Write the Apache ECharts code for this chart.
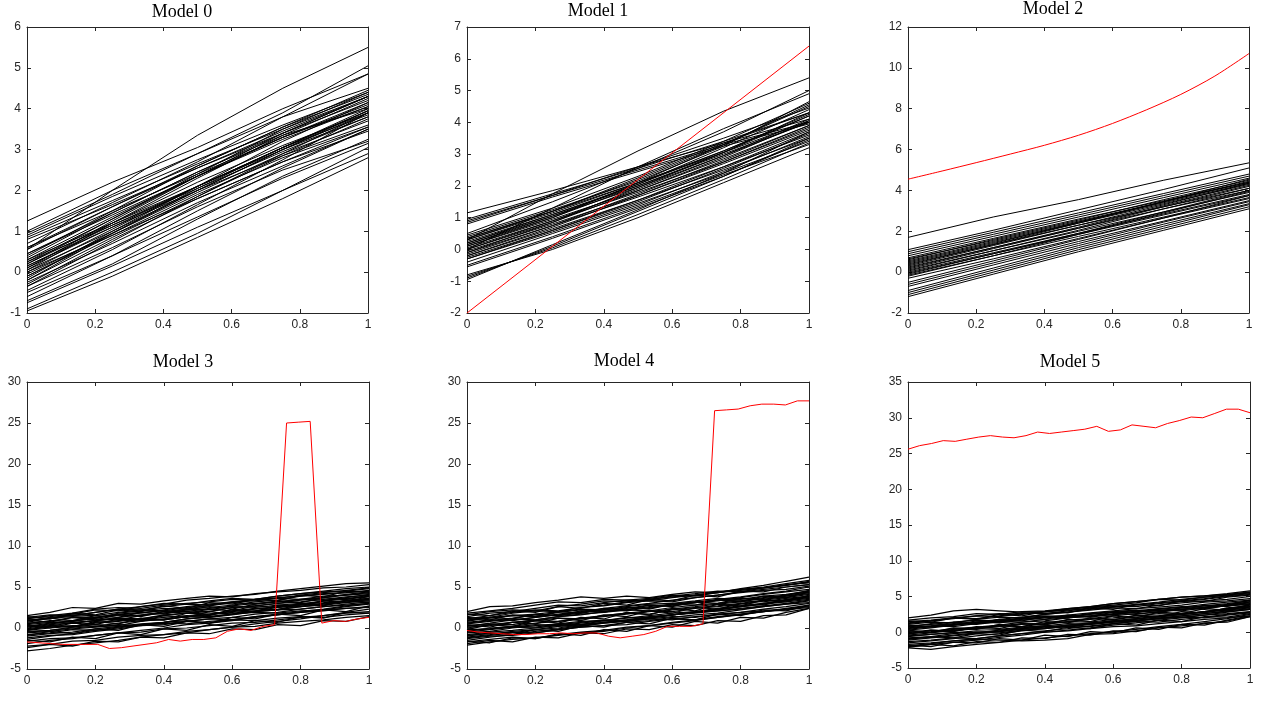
<!DOCTYPE html>
<html>
<head>
<meta charset="utf-8">
<title>Models</title>
<script src="https://cdn.jsdelivr.net/npm/echarts@6/dist/echarts.min.js"></script>
<style>
  html, body { margin: 0; padding: 0; background: #fff; }
  #main { width: 1272px; height: 706px; }
</style>
</head>
<body>
<div id="main"></div>
<script>
// x positions of the samples
var xs5 = [0, 0.25, 0.5, 0.75, 1];
var xs11 = [0, 0.1, 0.2, 0.3, 0.4, 0.5, 0.6, 0.7, 0.8, 0.9, 1];
var xs16 = [0, 0.067, 0.133, 0.2, 0.267, 0.333, 0.4, 0.467, 0.533, 0.6, 0.667, 0.733, 0.8, 0.867, 0.933, 1];
var xs30 = [0, 0.034, 0.069, 0.103, 0.138, 0.172, 0.207, 0.241, 0.276, 0.31, 0.345, 0.379, 0.414, 0.448, 0.483,
            0.517, 0.552, 0.586, 0.621, 0.655, 0.69, 0.724, 0.759, 0.793, 0.828, 0.862, 0.897, 0.931, 0.966, 1];
var xTicks = ['0', '0.2', '0.4', '0.6', '0.8', '1'];

// Model 0 - samples at xs5
var model0Lines = [
    [1.25, 2.2, 3.05, 4.0, 4.85], [0.55, 2.0, 3.35, 4.5, 5.5], [1.0, 2.0, 2.9, 3.8, 4.5],
    [0.95, 1.9, 2.9, 3.9, 5.05], [0.9, 1.85, 2.75, 3.6, 4.4], [0.8, 1.65, 2.55, 3.45, 4.3],
    [0.7, 1.7, 2.7, 3.8, 4.85], [0.55, 1.6, 2.55, 3.4, 4.2], [0.45, 1.4, 2.35, 3.3, 4.1],
    [0.35, 1.45, 2.45, 3.35, 4.0], [0.25, 1.3, 2.4, 3.5, 4.4], [0.2, 1.2, 2.2, 3.1, 3.9],
    [0.2, 1.3, 2.35, 3.25, 4.05], [0.15, 1.15, 2.1, 3.0, 3.8], [0.1, 1.25, 2.35, 3.4, 4.3],
    [0.05, 1.0, 2.0, 3.0, 3.9], [0.0, 1.05, 2.1, 3.05, 3.85], [-0.05, 0.95, 1.95, 2.9, 3.7],
    [-0.1, 0.9, 1.9, 2.8, 3.55], [-0.15, 1.0, 2.1, 3.2, 4.15], [-0.2, 0.85, 1.85, 2.85, 3.75],
    [-0.25, 0.7, 1.7, 2.6, 3.5], [-0.3, 0.8, 1.8, 2.7, 3.45], [-0.35, 0.6, 1.6, 2.5, 3.2],
    [-0.45, 0.55, 1.65, 2.75, 3.9], [-0.5, 0.4, 1.35, 2.3, 3.15], [-0.7, 0.2, 1.3, 2.35, 3.25],
    [-0.75, 0.15, 1.1, 2.0, 2.9], [-0.9, 0.0, 0.95, 2.0, 3.05], [-0.95, -0.1, 0.85, 1.8, 2.8],
    [0.6, 1.5, 2.4, 3.3, 4.05], [0.4, 1.5, 2.6, 3.55, 4.35], [0.15, 1.1, 2.0, 2.85, 3.6],
    [-0.2, 0.95, 2.05, 3.05, 4.0], [0.3, 1.2, 2.1, 3.05, 3.95], [0.05, 1.2, 2.3, 3.35, 4.25],
    [-0.6, 0.4, 1.5, 2.55, 3.5], [0.85, 1.75, 2.65, 3.5, 4.3],
    [0.3, 1.35, 2.35, 3.3, 4.15], [0.1, 1.1, 2.1, 3.05, 3.95], [-0.1, 0.95, 2.0, 3.0, 3.95],
    [0.45, 1.45, 2.45, 3.4, 4.3], [0.0, 0.9, 1.8, 2.7, 3.55], [0.25, 1.15, 2.05, 2.95, 3.8],
    [-0.35, 0.75, 1.85, 2.9, 3.9], [0.6, 1.6, 2.6, 3.55, 4.45]
];

// Model 1 - samples at xs5, red is a straight line
var model1Lines = [
    [1.15, 1.85, 2.6, 3.35, 4.1], [0.95, 1.75, 2.55, 3.4, 4.3], [0.9, 1.7, 2.5, 3.3, 4.0],
    [0.85, 1.7, 2.6, 3.5, 4.45], [0.8, 1.65, 2.45, 3.25, 3.95], [0.3, 1.75, 3.1, 4.35, 5.4],
    [0.0, 1.3, 2.6, 3.8, 4.9], [0.5, 1.5, 2.55, 3.7, 5.0], [0.45, 1.3, 2.3, 3.4, 4.6],
    [0.35, 1.2, 2.2, 3.3, 4.5], [0.3, 1.15, 2.1, 3.1, 4.2], [0.25, 1.1, 2.05, 3.2, 4.4],
    [0.2, 1.05, 1.95, 2.95, 4.0], [0.15, 1.0, 2.0, 3.05, 4.3], [0.1, 0.95, 1.85, 2.85, 3.9],
    [0.05, 0.9, 1.8, 2.75, 3.8], [0.0, 0.85, 1.85, 2.9, 4.05], [-0.05, 0.8, 1.7, 2.7, 3.75],
    [-0.1, 0.75, 1.65, 2.6, 3.6], [-0.15, 0.75, 1.75, 2.8, 3.9], [-0.2, 0.65, 1.55, 2.5, 3.5],
    [-0.25, 0.6, 1.5, 2.55, 3.65], [-0.3, 0.55, 1.45, 2.4, 3.4], [-0.4, 0.5, 1.4, 2.45, 3.55],
    [-0.5, 0.4, 1.35, 2.35, 3.3], [-0.55, 0.35, 1.3, 2.3, 3.45], [-0.8, 0.0, 1.0, 2.1, 3.2],
    [-0.85, 0.05, 1.1, 2.2, 3.35], [-0.9, 0.1, 1.2, 2.3, 3.5], [-0.95, 0.15, 1.25, 2.4, 3.7],
    [0.4, 1.25, 2.15, 3.25, 4.65], [0.1, 1.0, 2.1, 3.3, 4.55], [-0.1, 0.85, 1.95, 3.05, 4.2],
    [0.3, 1.2, 2.25, 3.35, 4.3],
    [0.2, 1.1, 2.0, 3.0, 4.0], [0.0, 0.9, 1.9, 2.95, 4.1], [-0.2, 0.7, 1.7, 2.75, 3.85],
    [0.15, 1.05, 2.05, 3.1, 4.25], [-0.3, 0.6, 1.55, 2.6, 3.7], [0.35, 1.2, 2.1, 3.05, 4.05]
];
var model1RedX = [0, 1];
var model1Red = [-2.0, 6.4];

// Model 2 - samples at xs5, red at xs11
var model2Lines = [
    [1.7, 2.7, 3.55, 4.5, 5.35], [1.1, 2.05, 3.05, 4.05, 5.1], [1.0, 1.95, 2.9, 3.85, 4.8],
    [0.9, 1.85, 2.8, 3.75, 4.7], [0.8, 1.75, 2.7, 3.65, 4.6], [0.7, 1.65, 2.6, 3.5, 4.4],
    [0.6, 1.6, 2.55, 3.55, 4.5], [0.5, 1.45, 2.4, 3.35, 4.3], [0.45, 1.4, 2.45, 3.45, 4.45],
    [0.4, 1.35, 2.3, 3.2, 4.1], [0.3, 1.3, 2.3, 3.3, 4.35], [0.25, 1.2, 2.15, 3.1, 4.0],
    [0.2, 1.2, 2.2, 3.25, 4.25], [0.1, 1.05, 2.0, 2.95, 3.9], [0.05, 1.05, 2.05, 3.1, 4.1],
    [0.0, 0.95, 1.9, 2.85, 3.8], [-0.1, 0.9, 1.9, 2.95, 4.0], [-0.15, 0.8, 1.75, 2.7, 3.65],
    [-0.2, 0.8, 1.85, 2.9, 3.95], [-0.3, 0.65, 1.65, 2.65, 3.6], [-0.5, 0.55, 1.6, 2.65, 3.75],
    [-0.6, 0.45, 1.5, 2.5, 3.5], [-0.7, 0.35, 1.4, 2.45, 3.45], [-0.9, 0.2, 1.3, 2.35, 3.35],
    [-1.0, 0.1, 1.2, 2.25, 3.3], [-1.1, 0.0, 1.1, 2.15, 3.2], [-1.2, -0.1, 1.0, 2.05, 3.1],
    [0.15, 1.15, 2.15, 3.2, 4.2], [0.35, 1.35, 2.4, 3.45, 4.55], [-0.05, 0.9, 1.85, 2.8, 3.75],
    [0.55, 1.5, 2.45, 3.4, 4.35], [0.65, 1.55, 2.5, 3.45, 4.4]
];
var model2Red = [4.55, 4.95, 5.36, 5.78, 6.21, 6.7, 7.28, 7.95, 8.7, 9.6, 10.7];

// Model 3 - black at xs16, red at xs30
var model3Lines = [
    [1.5, 1.9, 2.5, 2.4, 3.0, 2.9, 3.3, 3.6, 3.9, 3.8, 4.2, 4.4, 4.6, 4.9, 5.0, 5.3],
    [1.2, 1.4, 1.7, 2.2, 2.1, 2.6, 3.0, 2.9, 3.3, 3.6, 3.5, 3.9, 4.2, 4.4, 4.5, 4.8],
    [0.8, 1.3, 1.5, 1.9, 2.3, 2.6, 2.9, 3.4, 3.6, 3.9, 4.1, 4.5, 4.8, 5.1, 5.4, 5.5],
    [1.0, 1.1, 1.6, 1.5, 1.9, 2.2, 2.1, 2.5, 2.7, 3.1, 2.9, 3.2, 3.5, 3.4, 3.6, 3.8],
    [0.5, 0.9, 0.8, 1.3, 1.6, 1.5, 2.0, 2.3, 2.2, 2.7, 3.0, 3.2, 3.5, 3.7, 4.0, 4.3],
    [0.3, 0.2, 0.7, 0.9, 1.2, 1.1, 1.5, 1.8, 1.7, 2.1, 2.4, 2.5, 2.8, 3.0, 3.3, 3.5],
    [0.0, 0.4, 0.6, 0.9, 1.3, 1.6, 1.8, 2.3, 2.5, 2.8, 3.2, 3.4, 3.9, 4.1, 4.3, 4.6],
    [-0.2, 0.1, 0.3, 0.2, 0.6, 0.9, 1.0, 1.4, 1.3, 1.7, 2.0, 2.2, 2.3, 2.6, 2.8, 3.0],
    [-0.5, -0.3, 0.1, 0.4, 0.3, 0.8, 1.1, 1.4, 1.7, 2.0, 2.3, 2.6, 2.9, 3.3, 3.5, 3.9],
    [-0.8, -0.6, -0.2, -0.3, 0.1, 0.4, 0.5, 0.8, 1.1, 1.0, 1.4, 1.7, 1.9, 2.1, 2.4, 2.6],
    [-1.2, -0.9, -0.8, -0.4, -0.1, 0.3, 0.4, 0.8, 1.1, 1.3, 1.7, 1.9, 2.3, 2.6, 2.9, 3.2],
    [-1.6, -1.3, -1.2, -0.9, -0.6, -0.5, -0.1, 0.0, 0.3, 0.6, 0.7, 1.0, 1.3, 1.5, 1.8, 2.0],
    [-2.2, -2.0, -1.6, -1.5, -1.1, -0.9, -0.8, -0.4, -0.2, 0.1, 0.2, 0.6, 0.8, 1.0, 1.3, 1.5],
    [-2.8, -2.5, -2.1, -1.8, -1.5, -1.1, -0.8, -0.6, -0.2, 0.1, 0.5, 0.8, 1.1, 1.5, 1.9, 2.3],
    [0.6, 0.8, 1.3, 1.2, 1.8, 2.1, 2.4, 2.3, 2.8, 3.1, 3.5, 3.6, 4.0, 4.3, 4.6, 4.9],
    [0.2, 0.6, 0.9, 1.1, 1.0, 1.5, 1.8, 2.1, 2.0, 2.5, 2.7, 3.0, 3.2, 3.5, 3.8, 4.0],
    [-0.3, 0.0, 0.2, 0.7, 0.9, 1.1, 1.6, 1.8, 2.0, 2.5, 2.7, 3.0, 3.4, 3.7, 4.1, 4.4],
    [-1.0, -0.7, -0.5, -0.1, 0.2, 0.5, 0.7, 1.1, 1.3, 1.6, 2.0, 2.2, 2.6, 2.9, 3.3, 3.6],
    [1.3, 1.6, 1.5, 1.9, 2.3, 2.2, 2.6, 2.9, 2.8, 3.2, 3.3, 3.6, 3.5, 3.9, 4.0, 4.2],
    [-0.6, -0.4, -0.1, 0.1, 0.4, 0.3, 0.7, 0.9, 0.6, 1.0, 1.4, 1.6, 1.9, 2.2, 2.6, 2.9],
    [0.9, 1.2, 1.4, 1.3, 1.7, 1.9, 2.1, 2.0, 2.4, 2.6, 2.5, 2.8, 3.0, 3.1, 3.3, 3.4],
    [-1.4, -1.0, -0.7, -0.3, 0.0, 0.4, 0.7, 1.1, 1.4, 1.7, 2.1, 2.5, 2.8, 3.3, 3.7, 4.1],
    [0.1, 0.5, 0.8, 1.2, 1.6, 1.8, 2.2, 2.6, 2.9, 3.2, 3.5, 3.9, 4.2, 4.5, 4.8, 5.0],
    [-0.4, -0.3, 0.0, 0.2, 0.1, 0.4, 0.6, 0.5, 0.8, 1.0, 0.9, 1.2, 1.4, 1.3, 1.6, 1.8],
    [0.4, 0.7, 0.6, 0.9, 1.1, 1.0, 1.3, 1.5, 1.4, 1.7, 1.9, 1.8, 2.1, 2.2, 2.4, 2.5],
    [-1.9, -1.5, -1.3, -0.9, -0.6, -0.3, 0.0, 0.4, 0.6, 0.9, 1.3, 1.6, 2.0, 2.3, 2.7, 3.0],
    [1.1, 1.5, 1.8, 2.3, 2.5, 2.4, 2.8, 3.0, 3.2, 3.5, 3.4, 3.7, 3.9, 4.2, 4.3, 4.5],
    [-0.1, 0.3, 0.2, 0.6, 0.8, 1.1, 1.0, 1.4, 1.6, 1.9, 2.1, 2.3, 2.6, 2.8, 3.1, 3.3],
    [0.7, 1.2, 0.9, 1.5, 1.3, 1.9, 1.7, 2.2, 2.6, 2.3, 2.9, 3.3, 3.1, 3.7, 3.5, 4.0],
    [-0.9, -0.4, -0.7, -0.1, -0.3, 0.4, 0.2, 0.8, 0.6, 1.3, 1.1, 1.7, 1.5, 2.2, 2.0, 2.7],
    [1.4, 1.1, 1.8, 1.6, 2.2, 2.0, 2.7, 2.4, 3.1, 2.9, 3.5, 3.3, 4.0, 3.8, 4.5, 4.4],
    [-1.5, -1.7, -1.1, -1.3, -0.6, -0.8, -0.1, -0.3, 0.4, 0.2, 0.9, 0.7, 1.4, 1.2, 1.9, 1.8],
    [0.3, 0.0, 0.6, 0.4, 1.1, 0.8, 1.5, 1.3, 2.0, 1.7, 2.4, 2.2, 2.9, 2.7, 3.4, 3.6],
    [-0.3, 0.3, 0.1, 0.8, 0.5, 1.2, 1.0, 1.8, 1.5, 2.3, 2.0, 2.8, 2.6, 3.3, 3.1, 3.9],
    [1.0, 0.7, 1.3, 1.0, 1.6, 1.4, 2.0, 1.8, 2.3, 2.1, 2.7, 2.5, 3.0, 2.8, 3.3, 3.1],
    [-2.4, -2.0, -2.2, -1.6, -1.7, -1.1, -1.2, -0.6, -0.7, -0.1, -0.2, 0.4, 0.3, 0.9, 0.8, 1.4]
];
var model3Red = [-1.7, -1.8, -1.9, -2.0, -2.0, -2.0, -2.0, -2.5, -2.4, -2.2, -2.0, -1.8, -1.4, -1.6, -1.4,
                 -1.4, -1.2, -0.4, -0.1, -0.3, 0.2, 0.4, 25.0, 25.1, 25.2, 0.6, 0.9, 0.8, 1.1, 1.3];

// Model 4 - black at xs16, red at xs30
var model4Lines = [
    [2.0, 2.6, 2.7, 3.1, 3.4, 3.8, 3.6, 3.9, 3.7, 4.1, 4.4, 4.3, 4.8, 5.2, 5.7, 6.2],
    [1.6, 2.0, 2.2, 2.1, 2.6, 2.9, 3.3, 3.2, 3.5, 3.9, 4.2, 4.5, 4.4, 4.9, 5.2, 5.6],
    [1.2, 1.3, 1.8, 2.1, 2.0, 2.5, 2.7, 3.1, 3.3, 3.2, 3.7, 4.0, 4.3, 4.6, 4.7, 5.1],
    [0.9, 1.3, 1.5, 1.4, 1.9, 2.2, 2.0, 2.4, 2.8, 2.7, 3.1, 3.4, 3.6, 3.5, 3.9, 4.2],
    [0.6, 0.9, 1.2, 1.6, 1.5, 1.8, 2.2, 2.5, 2.4, 2.9, 3.2, 3.3, 3.7, 4.1, 4.4, 4.7],
    [0.3, 0.5, 0.4, 0.9, 1.2, 1.1, 1.5, 1.8, 2.1, 2.0, 2.4, 2.6, 2.9, 3.3, 3.4, 3.8],
    [0.0, 0.4, 0.7, 1.0, 1.4, 1.6, 2.0, 2.2, 2.6, 2.9, 3.1, 3.5, 3.8, 4.2, 4.5, 5.0],
    [-0.3, -0.1, 0.2, 0.1, 0.5, 0.8, 0.9, 1.3, 1.2, 1.6, 1.9, 2.1, 2.3, 2.6, 2.9, 3.1],
    [-0.6, -0.4, 0.0, 0.3, 0.5, 0.4, 0.9, 1.2, 1.5, 1.8, 2.0, 2.4, 2.7, 3.0, 3.4, 3.7],
    [-0.9, -0.7, -0.5, -0.6, -0.2, 0.1, 0.3, 0.4, 0.8, 1.1, 1.0, 1.4, 1.7, 2.0, 2.2, 2.5],
    [-1.3, -1.0, -0.9, -0.6, -0.2, 0.1, 0.3, 0.7, 0.9, 1.3, 1.6, 1.8, 2.2, 2.6, 2.9, 3.3],
    [-1.7, -1.4, -1.1, -1.3, -0.8, -0.5, -0.3, 0.1, 0.3, 0.7, 1.0, 1.3, 1.7, 2.0, 2.4, 2.8],
    [-2.1, -1.7, -1.4, -1.2, -0.9, -0.6, -0.4, 0.0, 0.3, 0.6, 0.9, 1.3, 1.6, 2.0, 2.3, 2.7],
    [1.4, 1.8, 2.0, 2.4, 2.8, 2.7, 3.1, 3.4, 3.3, 3.7, 4.0, 4.4, 4.7, 5.0, 5.4, 5.8],
    [0.7, 1.0, 0.9, 1.3, 1.6, 1.9, 2.2, 2.1, 2.5, 2.8, 3.1, 3.4, 3.3, 3.7, 4.0, 4.4],
    [0.1, 0.3, 0.7, 0.9, 0.8, 1.2, 1.5, 1.8, 1.7, 2.2, 2.5, 2.7, 3.0, 3.4, 3.7, 4.1],
    [-0.4, 0.0, 0.2, 0.6, 0.8, 1.1, 1.4, 1.7, 2.0, 2.3, 2.6, 2.9, 3.2, 3.6, 3.9, 4.3],
    [-1.1, -0.8, -0.4, -0.2, 0.2, 0.4, 0.7, 1.0, 1.4, 1.6, 2.0, 2.2, 2.6, 2.9, 3.2, 3.5],
    [1.8, 2.1, 2.4, 2.8, 3.2, 3.1, 3.5, 3.4, 3.6, 4.0, 3.9, 4.3, 4.6, 4.9, 5.3, 5.5],
    [-0.8, -0.5, -0.3, 0.0, 0.3, 0.2, 0.6, 0.8, 1.1, 1.0, 1.4, 1.6, 1.9, 2.3, 2.6, 3.0],
    [1.0, 1.2, 1.5, 1.7, 2.0, 2.3, 2.2, 2.6, 2.9, 3.0, 3.3, 3.6, 3.5, 3.9, 4.1, 4.5],
    [-1.5, -1.1, -0.8, -0.4, -0.1, 0.3, 0.6, 0.9, 1.2, 1.6, 1.9, 2.2, 2.6, 2.9, 3.4, 3.9],
    [0.2, 0.6, 1.0, 1.3, 1.7, 2.0, 2.4, 2.7, 3.0, 3.4, 3.7, 4.0, 4.4, 4.7, 5.0, 5.3],
    [-0.2, -0.1, 0.1, 0.4, 0.3, 0.6, 0.9, 0.8, 1.1, 1.4, 1.3, 1.7, 1.9, 2.1, 2.3, 2.6],
    [0.5, 0.8, 1.1, 1.0, 1.4, 1.7, 1.9, 2.2, 2.1, 2.5, 2.8, 3.0, 3.3, 3.2, 3.6, 3.9],
    [-1.2, -0.9, -0.6, -0.2, 0.0, 0.4, 0.7, 1.0, 1.3, 1.6, 1.9, 2.3, 2.6, 3.0, 3.3, 3.6],
    [1.1, 1.5, 1.9, 2.2, 2.1, 2.5, 2.8, 3.2, 3.5, 3.8, 4.0, 4.3, 4.7, 4.9, 5.2, 5.7],
    [-0.5, -0.2, 0.1, 0.0, 0.4, 0.7, 1.0, 0.9, 1.3, 1.6, 1.8, 2.1, 2.4, 2.7, 3.0, 3.4],
    [0.8, 1.3, 1.1, 1.7, 1.5, 2.1, 1.9, 2.5, 2.3, 2.9, 2.8, 3.4, 3.2, 3.9, 3.7, 4.4],
    [-1.0, -0.6, -0.8, -0.2, -0.4, 0.3, 0.1, 0.7, 0.5, 1.2, 1.0, 1.7, 1.5, 2.2, 2.1, 2.8],
    [1.7, 1.5, 2.1, 1.9, 2.6, 2.4, 3.0, 2.8, 3.5, 3.3, 4.0, 3.8, 4.5, 4.4, 5.0, 5.3],
    [-1.6, -1.8, -1.2, -1.3, -0.7, -0.9, -0.2, -0.4, 0.3, 0.1, 0.8, 0.6, 1.3, 1.2, 1.9, 2.4],
    [0.4, 0.1, 0.7, 0.5, 1.2, 0.9, 1.6, 1.4, 2.1, 1.8, 2.5, 2.3, 3.0, 2.8, 3.5, 3.8],
    [-0.2, 0.4, 0.2, 0.9, 0.6, 1.3, 1.1, 1.9, 1.6, 2.4, 2.1, 2.9, 2.7, 3.4, 3.2, 4.0],
    [1.3, 1.0, 1.6, 1.4, 2.0, 1.8, 2.4, 2.2, 2.8, 2.6, 3.2, 3.0, 3.6, 3.4, 4.0, 4.6],
    [-1.9, -1.5, -1.7, -1.1, -1.2, -0.6, -0.7, -0.1, -0.2, 0.4, 0.3, 0.9, 0.8, 1.5, 1.6, 2.4]
];
var model4Red = [-0.3, -0.5, -0.6, -0.7, -0.8, -0.8, -0.7, -0.7, -0.6, -0.7, -0.6, -0.6, -1.0, -1.2, -1.0,
                 -0.8, -0.4, 0.2, 0.2, 0.2, 0.5, 26.5, 26.6, 26.7, 27.1, 27.3, 27.3, 27.2, 27.7, 27.7];

// Model 5 - black at xs16, red at xs30
var model5Lines = [
    [2.0, 2.4, 3.0, 3.2, 3.0, 2.8, 2.9, 3.1, 3.3, 3.6, 3.9, 4.2, 4.6, 4.9, 5.2, 5.6],
    [1.5, 1.7, 2.0, 2.3, 2.6, 2.5, 2.9, 3.2, 3.5, 3.8, 4.1, 4.6, 4.9, 5.1, 5.4, 5.8],
    [1.1, 1.4, 1.3, 1.8, 2.1, 2.0, 2.5, 2.8, 3.1, 3.4, 3.3, 3.8, 4.1, 4.4, 4.6, 5.0],
    [0.8, 0.7, 1.1, 1.4, 1.3, 1.7, 2.0, 2.2, 2.1, 2.5, 2.8, 3.1, 3.0, 3.4, 3.7, 4.0],
    [0.4, 0.8, 1.0, 1.3, 1.6, 1.9, 2.1, 2.4, 2.7, 3.0, 3.3, 3.5, 3.8, 4.2, 4.4, 4.7],
    [0.1, 0.0, 0.4, 0.6, 0.9, 0.8, 1.2, 1.5, 1.4, 1.8, 2.1, 2.3, 2.6, 2.8, 3.1, 3.4],
    [-0.2, 0.1, 0.5, 0.7, 1.0, 1.4, 1.6, 2.0, 2.3, 2.5, 2.9, 3.2, 3.5, 3.9, 4.2, 4.5],
    [-0.6, -0.3, -0.1, 0.2, 0.1, 0.5, 0.8, 0.7, 1.1, 1.4, 1.6, 1.9, 2.1, 2.4, 2.6, 2.9],
    [-0.9, -0.7, -0.4, -0.1, 0.2, 0.5, 0.7, 1.0, 1.3, 1.6, 1.9, 2.3, 2.5, 2.9, 3.3, 3.6],
    [-1.3, -1.1, -0.8, -0.9, -0.5, -0.2, 0.0, 0.2, 0.5, 0.8, 0.9, 1.2, 1.5, 1.8, 2.0, 2.3],
    [-1.7, -1.5, -1.2, -1.0, -1.1, -1.2, -1.1, -0.9, -0.3, -0.2, 0.2, 0.6, 0.9, 1.2, 1.6, 2.2],
    [-2.2, -2.4, -2.0, -1.7, -1.4, -1.1, -0.8, -0.5, -0.2, 0.1, 0.4, 0.8, 1.1, 1.5, 1.9, 2.5],
    [-2.0, -1.7, -1.4, -1.1, -0.7, -0.4, 0.0, 0.3, 0.6, 1.0, 1.3, 1.7, 2.0, 2.4, 2.8, 3.2],
    [1.3, 1.6, 2.0, 1.9, 2.3, 2.7, 2.6, 3.0, 3.4, 3.7, 3.6, 4.0, 4.3, 4.6, 5.0, 5.3],
    [0.6, 0.9, 1.2, 1.1, 1.5, 1.8, 2.2, 2.1, 2.5, 2.8, 3.0, 3.3, 3.6, 3.5, 3.9, 4.2],
    [0.0, 0.3, 0.2, 0.6, 0.9, 1.2, 1.1, 1.5, 1.8, 2.0, 2.3, 2.6, 2.5, 2.9, 3.2, 3.6],
    [-0.4, -0.1, 0.3, 0.5, 0.8, 1.1, 1.3, 1.7, 1.9, 2.3, 2.6, 2.8, 3.2, 3.5, 3.8, 4.1],
    [-1.1, -0.8, -0.5, -0.2, 0.1, 0.4, 0.6, 1.0, 1.2, 1.6, 1.9, 2.1, 2.5, 2.8, 3.2, 3.5],
    [1.7, 2.0, 2.2, 2.6, 2.5, 2.9, 3.0, 3.3, 3.6, 4.0, 4.3, 4.6, 4.5, 4.9, 5.2, 5.5],
    [-0.8, -0.6, -0.2, 0.0, -0.1, 0.3, 0.5, 0.9, 0.8, 1.2, 1.5, 1.4, 1.8, 2.1, 2.5, 2.8],
    [0.9, 1.1, 1.4, 1.7, 1.6, 2.0, 2.3, 2.2, 2.6, 2.9, 3.1, 3.0, 3.4, 3.7, 4.0, 4.4],
    [-1.5, -1.2, -0.9, -0.5, -0.2, 0.2, 0.5, 0.8, 1.2, 1.5, 1.8, 2.2, 2.5, 2.9, 3.3, 3.8],
    [0.3, 0.6, 1.0, 1.4, 1.8, 2.1, 2.5, 2.8, 3.2, 3.5, 3.8, 4.1, 4.4, 4.7, 5.1, 5.4],
    [-0.1, 0.0, 0.2, 0.5, 0.4, 0.7, 0.9, 1.2, 1.1, 1.4, 1.6, 1.9, 2.1, 2.0, 2.4, 2.7],
    [0.5, 0.9, 0.8, 1.2, 1.5, 1.4, 1.8, 2.0, 2.3, 2.6, 2.5, 2.9, 3.2, 3.4, 3.7, 3.9],
    [-1.9, -1.6, -1.2, -0.9, -0.5, -0.2, 0.2, 0.5, 0.9, 1.2, 1.6, 1.9, 2.3, 2.6, 3.0, 3.3],
    [1.2, 1.6, 1.9, 2.3, 2.2, 2.6, 2.9, 3.3, 3.6, 4.0, 4.3, 4.6, 4.9, 5.1, 5.3, 5.6],
    [-0.5, -0.3, 0.0, -0.1, 0.3, 0.6, 0.9, 0.8, 1.2, 1.5, 1.7, 2.0, 2.3, 2.6, 2.9, 3.2],
    [0.7, 1.2, 1.0, 1.6, 1.4, 2.0, 1.8, 2.4, 2.2, 2.8, 2.7, 3.3, 3.1, 3.8, 3.6, 4.3],
    [-1.0, -0.6, -0.8, -0.2, -0.4, 0.3, 0.1, 0.7, 0.5, 1.2, 1.0, 1.7, 1.5, 2.2, 2.1, 2.6],
    [1.6, 1.4, 2.0, 1.8, 2.5, 2.3, 2.9, 2.7, 3.4, 3.2, 3.9, 3.7, 4.4, 4.3, 4.9, 5.2],
    [-1.8, -2.0, -1.4, -1.5, -0.9, -1.1, -0.4, -0.6, 0.1, -0.1, 0.6, 0.4, 1.1, 1.0, 1.7, 2.3],
    [0.3, 0.0, 0.6, 0.4, 1.1, 0.8, 1.5, 1.3, 2.0, 1.7, 2.4, 2.2, 2.9, 2.7, 3.4, 3.7],
    [-0.3, 0.3, 0.1, 0.8, 0.5, 1.2, 1.0, 1.8, 1.5, 2.3, 2.0, 2.8, 2.6, 3.3, 3.1, 3.9],
    [1.0, 0.8, 1.4, 1.2, 1.8, 1.6, 2.2, 2.0, 2.6, 2.4, 3.0, 2.8, 3.4, 3.2, 3.8, 4.5],
    [-2.1, -1.7, -1.9, -1.3, -1.4, -0.8, -0.9, -0.3, -0.4, 0.2, 0.1, 0.7, 0.6, 1.3, 1.4, 2.2]
];
var model5Red = [25.6, 26.1, 26.4, 26.8, 26.7, 27.0, 27.3, 27.5, 27.3, 27.2, 27.5, 28.0, 27.8, 28.0, 28.2,
                 28.4, 28.8, 28.1, 28.3, 29.0, 28.8, 28.6, 29.2, 29.6, 30.1, 30.0, 30.6, 31.2, 31.2, 30.7];

var titles = ['Model 0', 'Model 1', 'Model 2', 'Model 3', 'Model 4', 'Model 5'];

var panels = [
    { lines: model0Lines, xs: xs5,  red: null,      redX: null,       min: -1, max: 6,  step: 1 },
    { lines: model1Lines, xs: xs5,  red: model1Red, redX: model1RedX, min: -2, max: 7,  step: 1 },
    { lines: model2Lines, xs: xs5,  red: model2Red, redX: xs11,       min: -2, max: 12, step: 2 },
    { lines: model3Lines, xs: xs16, red: model3Red, redX: xs30,       min: -5, max: 30, step: 5 },
    { lines: model4Lines, xs: xs16, red: model4Red, redX: xs30,       min: -5, max: 30, step: 5 },
    { lines: model5Lines, xs: xs16, red: model5Red, redX: xs30,       min: -5, max: 35, step: 5 }
];

// layout
var boxes = [
    [27, 27, 341, 286], [467, 27, 342, 286], [908, 27, 341, 286],
    [27, 382, 342, 287], [467, 382, 342, 287], [908, 382, 342, 286]
];
var titlePos = [[182, 12], [598, 11], [1053, 9], [183, 362], [624, 361], [1070, 362]];

var axisColor = '#262626';
var labelFont = { color: axisColor, fontFamily: 'Liberation Sans, Arial, sans-serif', fontSize: 12 };

function pairs(xs, ys) {
    return ys.map(function (y, i) { return [xs[i], y]; });
}

var grids = [], xAxes = [], yAxes = [], series = [], graphics = [];

panels.forEach(function (p, i) {
    var b = boxes[i];
    grids.push({ left: b[0], top: b[1], width: b[2], height: b[3], containLabel: false });

    [['bottom', true], ['top', false]].forEach(function (s) {
        xAxes.push({
            type: 'value', gridIndex: i, position: s[0], min: 0, max: 1, interval: 0.2,
            axisLine: { show: true, onZero: false, lineStyle: { color: axisColor, width: 1 } },
            axisTick: { show: true, inside: true, length: 4, lineStyle: { color: axisColor } },
            axisLabel: Object.assign({ show: s[1], margin: 6, formatter: function (v) {
                return xTicks[Math.round(v / 0.2)];
            } }, labelFont),
            splitLine: { show: false }
        });
    });
    [['left', true], ['right', false]].forEach(function (s) {
        yAxes.push({
            type: 'value', gridIndex: i, position: s[0], min: p.min, max: p.max, interval: p.step,
            axisLine: { show: true, onZero: false, lineStyle: { color: axisColor, width: 1 } },
            axisTick: { show: true, inside: true, length: 4, lineStyle: { color: axisColor } },
            axisLabel: Object.assign({ show: s[1], margin: 6 }, labelFont),
            splitLine: { show: false }
        });
    });

    // noisy bundles in the lower row read a little heavier
    var blackWidth = i >= 3 ? 1.25 : 1;
    p.lines.forEach(function (ys) {
        series.push({
            type: 'line', xAxisIndex: 2 * i, yAxisIndex: 2 * i, data: pairs(p.xs, ys),
            smooth: false, showSymbol: false, symbol: 'none',
            silent: true, lineStyle: { color: '#000', width: blackWidth }, z: 2
        });
    });
    if (p.red) {
        series.push({
            type: 'line', xAxisIndex: 2 * i, yAxisIndex: 2 * i, data: pairs(p.redX, p.red),
            smooth: i === 2 ? 0.3 : false, showSymbol: false, symbol: 'none',
            silent: true, lineStyle: { color: '#ff0000', width: 1 }, z: 3
        });
    }

    graphics.push({
        type: 'text', x: titlePos[i][0], y: titlePos[i][1],
        style: {
            text: titles[i], fill: '#000', align: 'center', verticalAlign: 'middle',
            font: '18px "Liberation Serif", "Times New Roman", serif'
        }
    });
});

var chart = echarts.init(document.getElementById('main'));
chart.setOption({
    animation: false,
    backgroundColor: '#fff',
    grid: grids,
    xAxis: xAxes,
    yAxis: yAxes,
    series: series,
    graphic: graphics
});
</script>
</body>
</html>
